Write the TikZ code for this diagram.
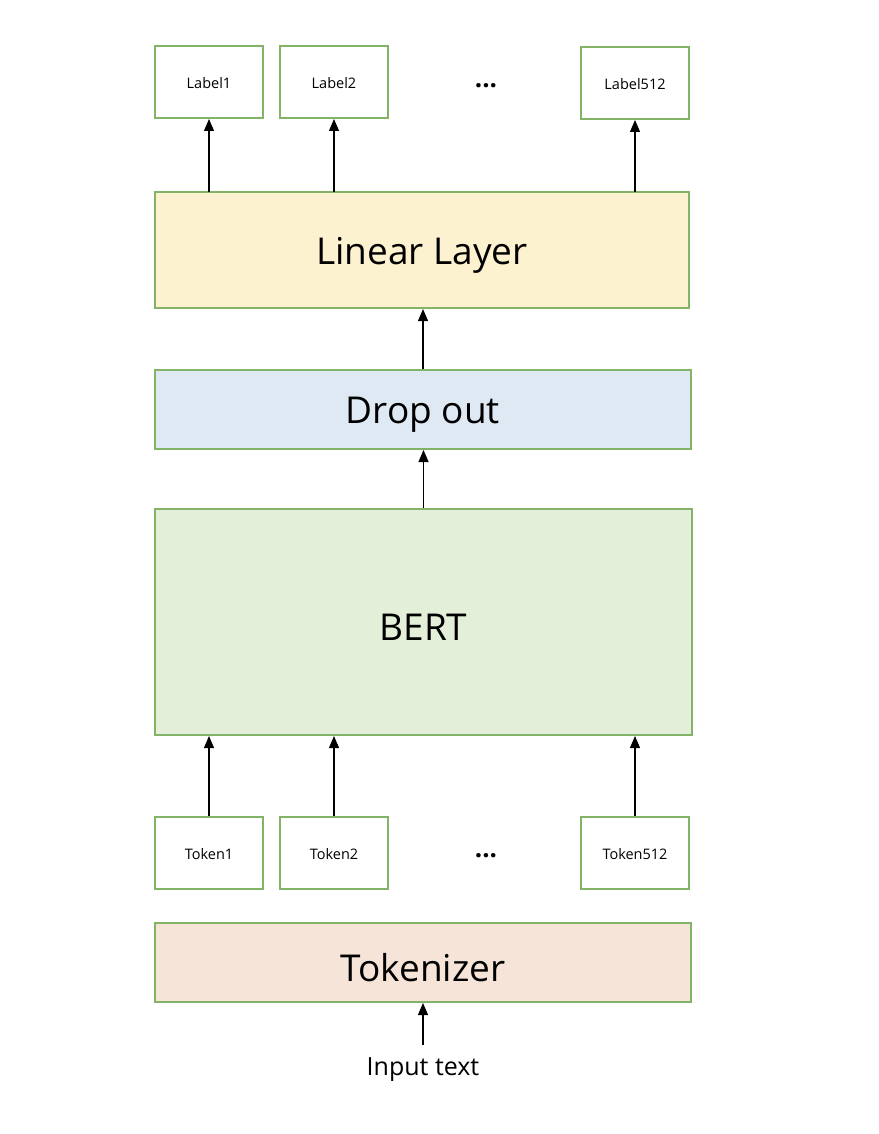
\documentclass[tikz,border=0pt]{standalone}
\usepackage{fontspec}
\setmainfont{Open Sans}
\usetikzlibrary{arrows.meta}
\definecolor{gborder}{HTML}{82B366}
\definecolor{linfill}{HTML}{FCF2D0}
\definecolor{dropfill}{HTML}{DFE9F4}
\definecolor{bertfill}{HTML}{E3EFD9}
\definecolor{tokfill}{HTML}{F6E4D8}
\newcommand{\lowtext}[1]{\raisebox{-5pt}[\height][\depth]{#1}}
\newcommand{\lowsmall}[1]{\raisebox{-1.5pt}[\height][\depth]{#1}}
\tikzset{
  box/.style={draw=gborder, line width=2pt, inner sep=0pt, font=\fontsize{14.5}{16}\selectfont},
  bigbox/.style={box, font=\fontsize{37}{40}\selectfont},
  dotsstyle/.style={font=\fontsize{26}{28}\selectfont},
  arr/.style={-{Triangle[length=12pt,width=10pt]}, line width=1.1pt},
}
\begin{document}
\begin{tikzpicture}[x=1pt,y=-1pt]
\useasboundingbox (0,0) rectangle (878,1134);
% label boxes
\node[box, minimum width=108pt, minimum height=72pt] (l1) at (209,82) {\lowsmall{Label1}};
\node[box, minimum width=108pt, minimum height=72pt] (l2) at (334,82) {\lowsmall{Label2}};
\node[box, minimum width=108pt, minimum height=72pt] (l512) at (635,83) {\lowsmall{Label512}};
\node[dotsstyle] (ldots) at (486,86) {\textbf{...}};
% linear layer
\node[bigbox, fill=linfill, minimum width=534pt, minimum height=116pt] (lin) at (422,250) {\lowtext{Linear Layer}};
% dropout
\node[bigbox, fill=dropfill, minimum width=536pt, minimum height=79pt] (drop) at (423,409.5) {\lowtext{Drop out}};
% BERT
\node[bigbox, fill=bertfill, minimum width=537pt, minimum height=226pt] (bert) at (423.5,622) {\lowtext{BERT}};
% token boxes
\node[box, minimum width=108pt, minimum height=72pt] (t1) at (209,853) {\lowsmall{Token1}};
\node[box, minimum width=108pt, minimum height=72pt] (t2) at (334,853) {\lowsmall{Token2}};
\node[box, minimum width=108pt, minimum height=72pt] (t512) at (635,853) {\lowsmall{Token512}};
\node[dotsstyle] (tdots) at (486,856) {\textbf{...}};
% tokenizer
\node[bigbox, fill=tokfill, minimum width=536pt, minimum height=79pt] (tok) at (423,962.5) {\lowtext{Tokenizer}};
% input
\node[font=\fontsize{25}{28}\selectfont] (inp) at (423,1070) {Input text};
\coordinate (inpt) at (423,1045);
% arrows
\draw[arr] (209,192) -- (l1.south);
\draw[arr] (334,192) -- (l2.south);
\draw[arr] (635,192) -- (l512.south);
\draw[arr] (drop.north) -- (lin.south -| drop.north);
\draw[arr] (bert.north) -- (drop.south -| bert.north);
\draw[arr] (t1.north) -- (t1.north |- bert.south);
\draw[arr] (t2.north) -- (t2.north |- bert.south);
\draw[arr] (t512.north) -- (t512.north |- bert.south);
\draw[arr] (inpt) -- (tok.south -| inpt);
\end{tikzpicture}
\end{document}
